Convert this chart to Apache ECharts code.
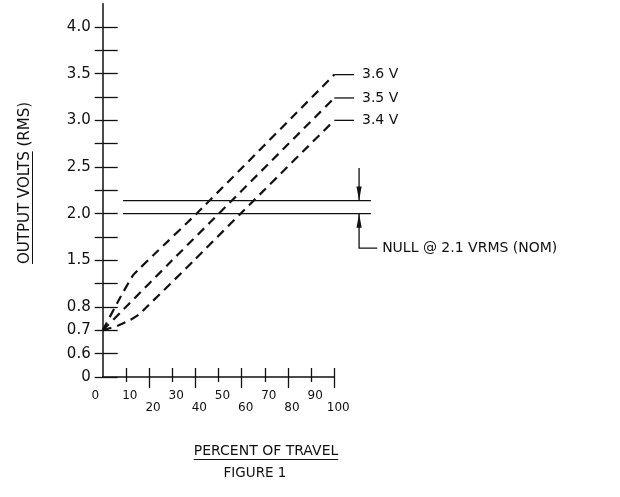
<!DOCTYPE html>
<html><head><meta charset="utf-8">
<script src="https://cdn.jsdelivr.net/npm/echarts@6/dist/echarts.min.js"></script>
<style>html,body{margin:0;padding:0;background:#fff}#c{width:620px;height:497px}</style>
</head><body><div id="c"></div>
<script>
// ---------- data (percent of travel, output volts RMS) ----------
const curve36Pct   = [0, 7.5, 13, 16, 22.5, 40.5, 100];
const curve36Volts = [0.7, 0.94, 1.27, 1.38, 1.57, 2.0, 3.49];
const curve35Pct   = [0, 10, 30, 100];
const curve35Volts = [0.7, 0.8, 1.5, 3.24];
const curve34Pct   = [0, 6.5, 12, 16, 19, 39.5, 59.5, 100];
const curve34Volts = [0.7, 0.72, 0.745, 0.77, 0.8, 1.5, 2.0, 3.0];
const curveNames   = ['3.6 V', '3.5 V', '3.4 V'];
const nullBandVolts = [2.0, 2.14];
const nullNote = 'NULL @ 2.1 VRMS (NOM)';
const xTickValues = [0, 10, 20, 30, 40, 50, 60, 70, 80, 90, 100];
const yTickLabels = ['0', '0.6', '0.7', '0.8', '', '1.5', '', '2.0', '', '2.5', '', '3.0', '', '3.5', '', '4.0'];
// broken volts scale as printed: volts -> tick step
const yScaleVolts = [0, 0.6, 0.7, 0.8, 1.5, 4.0];
const yScaleSteps = [0, 1, 2, 3, 5, 15];
const xTitle = 'PERCENT OF TRAVEL';
const yTitle = 'OUTPUT VOLTS (RMS)';
const yTitleUnderlined = 'OUTPUT VOLTS';
const figTitle = 'FIGURE 1';

// ---------- helpers ----------
function toAxis(v) {
  for (let i = 1; i < yScaleVolts.length; i++) {
    if (v <= yScaleVolts[i] || i === yScaleVolts.length - 1) {
      const a = yScaleVolts[i - 1], b = yScaleVolts[i];
      return yScaleSteps[i - 1] + (v - a) / (b - a) * (yScaleSteps[i] - yScaleSteps[i - 1]);
    }
  }
}
const pairs = (xs, vs) => xs.map((x, i) => [x, toAxis(vs[i])]);

const FONT = '"DejaVu Sans", "Liberation Sans", sans-serif';
const INK = '#111';
const chart = echarts.init(document.getElementById('c'), null, { renderer: 'canvas' });

const curves = [[curve36Pct, curve36Volts], [curve35Pct, curve35Volts], [curve34Pct, curve34Volts]];
const series = [];
curves.forEach(([xs, vs], i) => {
  series.push({
    type: 'line', name: curveNames[i], data: pairs(xs, vs), symbol: 'none', smooth: 0.15,
    silent: true, z: 3, lineStyle: { color: INK, width: 2.2, type: [9, 6] }
  });
});

const tickLine = { color: INK, width: 1.3 };
const yIdx = yTickLabels.map((_, i) => i);
const xInner = xTickValues.filter(v => v > 0);
const xOdd = xTickValues.filter(v => v % 20 === 10);
const xEven = xTickValues.filter(v => v > 0 && v % 20 === 0);
const xUpperLabels = xTickValues.filter(v => v % 20 !== 0 || v === 0);
const xLowerLabels = xEven;
const labelRich = {
  z: { fontSize: 12, fontFamily: FONT, color: INK, lineHeight: 12, padding: [0, 15, 0, 0] },
  o: { fontSize: 12, fontFamily: FONT, color: INK, lineHeight: 12, padding: [0, 0, 0, 8] }
};

const option = {
  animation: false,
  backgroundColor: '#fff',
  grid: { left: 102.7, right: 285.7, top: 3.7, bottom: 120, containLabel: false, outerBoundsMode: 'none' },
  xAxis: [
    { type: 'value', min: 0, max: 100, position: 'bottom',
      axisLine: { show: true, lineStyle: { color: INK, width: 1.5 } },
      axisTick: { show: true, inside: true, length: 9, customValues: xInner, lineStyle: tickLine },
      axisLabel: { show: false }, splitLine: { show: false } },
    { type: 'value', min: 0, max: 100, position: 'bottom',
      axisLine: { show: false },
      axisTick: { show: true, length: 5, customValues: xOdd, lineStyle: tickLine },
      axisLabel: {
        show: true, customValues: xUpperLabels, margin: 13, color: INK, fontFamily: FONT, fontSize: 12, lineHeight: 12,
        showMinLabel: true, showMaxLabel: true, hideOverlap: false,
        formatter: v => v === 0 ? '{z|0}' : '{o|' + v + '}', rich: labelRich
      },
      splitLine: { show: false } },
    { type: 'value', min: 0, max: 100, position: 'bottom',
      axisLine: { show: false },
      axisTick: { show: true, length: 11, customValues: xEven, lineStyle: tickLine },
      axisLabel: {
        show: true, customValues: xLowerLabels, margin: 25, color: INK, fontFamily: FONT, fontSize: 12, lineHeight: 12,
        showMinLabel: true, showMaxLabel: true, hideOverlap: false,
        formatter: v => '{o|' + v + '}', rich: labelRich
      },
      splitLine: { show: false } }
  ],
  yAxis: [
    { type: 'value', min: 0, max: 16, position: 'left',
      axisLine: { show: true, lineStyle: { color: INK, width: 1.5 } },
      axisTick: { show: true, length: 8, customValues: yIdx, lineStyle: tickLine },
      axisLabel: { show: true, customValues: yIdx, margin: 12, color: INK, fontFamily: FONT, fontSize: 15,
        showMinLabel: true, showMaxLabel: true, formatter: v => yTickLabels[Math.round(v)] },
      splitLine: { show: false } },
    { type: 'value', min: 0, max: 16, position: 'left',
      axisLine: { show: false },
      axisTick: { show: true, inside: true, length: 15, customValues: yIdx, lineStyle: tickLine },
      axisLabel: { show: false }, splitLine: { show: false } }
  ],
  series: series
};
chart.setOption(option);

// ---------- annotations placed through the chart's own scales ----------
const px = (x, v) => chart.convertToPixel({ xAxisIndex: 0, yAxisIndex: 0 }, [x, toAxis(v)]);
const ctx = document.createElement('canvas').getContext('2d');
const measure = (t, size) => { ctx.font = size + 'px ' + FONT; return ctx.measureText(t).width; };
const txt = (text, x, y, size, align, rot) => ({
  type: 'text', x: x, y: y, rotation: rot || 0, silent: true,
  style: { text: text, fill: INK, fontSize: size, fontFamily: FONT,
    align: align || 'left', verticalAlign: 'middle', textAlign: align || 'left', textVerticalAlign: 'middle' }
});
const seg = (a, b, w) => ({ type: 'line', silent: true, shape: { x1: a[0], y1: a[1], x2: b[0], y2: b[1] },
  style: { stroke: INK, lineWidth: w || 1.3 } });
const graphics = [];

// leaders + curve labels
const leaderLen = 8.5;      // percent units
curves.forEach(([xs, vs], i) => {
  const xe = xs[xs.length - 1], ve = vs[vs.length - 1];
  const a = px(xe, ve), b = px(xe + leaderLen, ve);
  graphics.push(seg(a, b));
  graphics.push(txt(curveNames[i], b[0] + 8, b[1], 14, 'left'));
});

// null band lines
nullBandVolts.forEach(v => graphics.push(seg(px(8.8, v), px(115.8, v))));

const arrowPct = 110.7, tailTop = 2.49, tailBot = 1.63, noteEndPct = 118.5;
const aTop0 = px(arrowPct, tailTop), aTop1 = px(arrowPct, nullBandVolts[1]);
const aBot0 = px(arrowPct, nullBandVolts[0]), aBot1 = px(arrowPct, tailBot), noteEnd = px(noteEndPct, tailBot);
const headL = 14, headW = 2.6;
graphics.push(seg(aTop0, aTop1));
graphics.push({ type: 'polygon', silent: true, shape: { points: [[aTop1[0], aTop1[1]], [aTop1[0] - headW, aTop1[1] - headL], [aTop1[0] + headW, aTop1[1] - headL]] }, style: { fill: INK } });
graphics.push({ type: 'polyline', silent: true, shape: { points: [aBot0, aBot1, noteEnd] }, style: { stroke: INK, lineWidth: 1.3, fill: null } });
graphics.push({ type: 'polygon', silent: true, shape: { points: [[aBot0[0], aBot0[1]], [aBot0[0] - headW, aBot0[1] + headL], [aBot0[0] + headW, aBot0[1] + headL]] }, style: { fill: INK } });
graphics.push(txt(nullNote, noteEnd[0] + 5, noteEnd[1], 14, 'left'));

// axis titles
const yTitleSize = 15, yTitleX = 25, yTitleY = 183;
const yTitleW = measure(yTitle, yTitleSize), yUnderW = measure(yTitleUnderlined, yTitleSize);
graphics.push(txt(yTitle, yTitleX, yTitleY, yTitleSize, 'center', Math.PI / 2));
graphics.push(seg([yTitleX + 7.5, yTitleY + yTitleW / 2], [yTitleX + 7.5, yTitleY + yTitleW / 2 - yUnderW], 1));

const xTitleSize = 14, xTitleX = 266, xTitleY = 451;
const xTitleW = measure(xTitle, xTitleSize);
graphics.push(txt(xTitle, xTitleX, xTitleY, xTitleSize, 'center'));
graphics.push(seg([xTitleX - xTitleW / 2, xTitleY + 8.5], [xTitleX + xTitleW / 2, xTitleY + 8.5], 1));
graphics.push(txt(figTitle, 255, 473, 13.5, 'center'));

chart.setOption({ graphic: graphics });
</script>
</body></html>
